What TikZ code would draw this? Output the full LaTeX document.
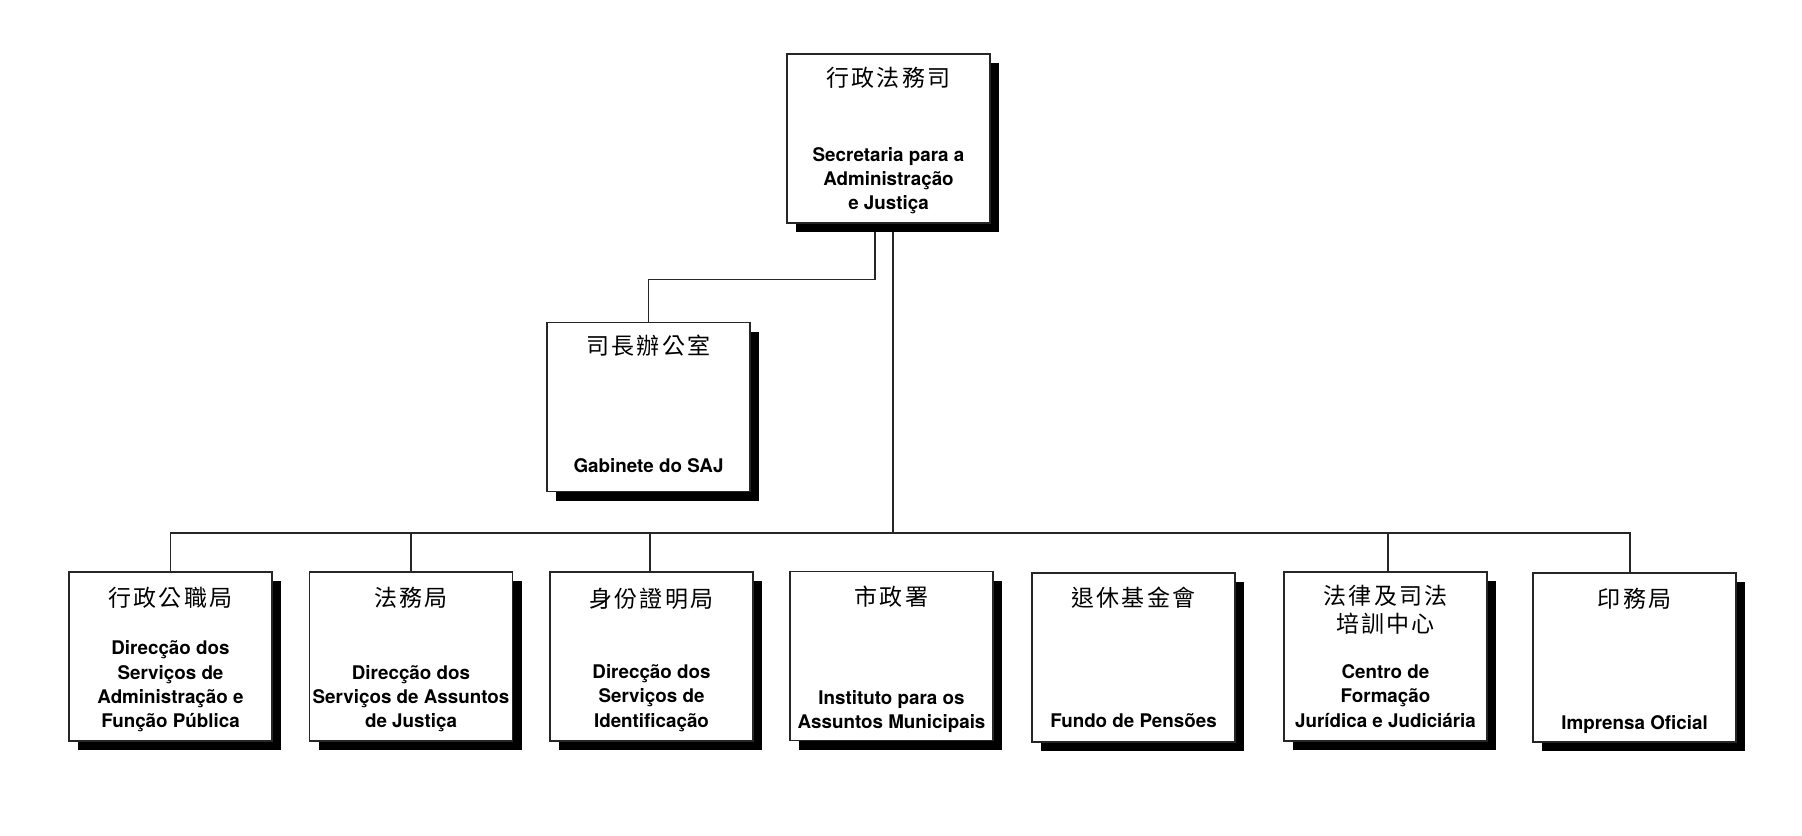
\documentclass[tikz,border=0pt]{standalone}
\usepackage{fontspec}
\setmainfont{TeX Gyre Heros}
\newfontfamily\cjkfont[LetterSpace=9]{Noto Sans CJK TC}
\usetikzlibrary{shadows,backgrounds,calc}
\tikzset{
  orgbox/.style={draw=black!85, line width=0.7pt, fill=white, minimum width=101.5pt, minimum height=84.5pt, inner sep=0pt,
    drop shadow={shadow xshift=4.5pt, shadow yshift=-4.5pt, fill=black, opacity=1}},
  cjktxt/.style={font=\fontsize{11.5}{14}\selectfont\cjkfont, align=center, inner sep=0pt},
  lattxt/.style={font=\fontsize{9.4}{12.15}\selectfont\bfseries, align=center, inner sep=0pt, anchor=south, execute at end node={\strut}},
  conn/.style={draw=black!85, line width=0.7pt}
}
\begin{document}
\begin{tikzpicture}[x=0.5pt, y=-0.5pt]
\useasboundingbox (0,0) rectangle (1802,835);
% boxes
\node[orgbox] (top) at (888.5,138.5) {};
\node[orgbox] (gab) at (648.5,407) {};
\node[orgbox] (b1) at (170.5,656.5) {};
\node[orgbox] (b2) at (411,656.5) {};
\node[orgbox] (b3) at (651.5,656.5) {};
\node[orgbox] (b4) at (891.5,656) {};
\node[orgbox] (b5) at (1133.5,657.5) {};
\node[orgbox] (b6) at (1385.5,656.5) {};
\node[orgbox] (b7) at (1634.5,657.5) {};
% texts
\node[cjktxt] (topc) at ([yshift=-12pt]top.north) {行政法務司};
\node[lattxt] (topl) at ([yshift=3.1pt]top.south) {Secretaria para a\\Administração\\e Justiça};
\node[cjktxt] (gabc) at ([yshift=-12pt]gab.north) {司長辦公室};
\node[lattxt] (gabl) at ([yshift=6.1pt]gab.south) {Gabinete do SAJ};
\node[cjktxt] (b1c) at ([yshift=-13pt]b1.north) {行政公職局};
\node[lattxt] (b1l) at ([yshift=3.1pt]b1.south) {Direcção dos\\Serviços de\\Administração e\\Função Pública};
\node[cjktxt] (b2c) at ([yshift=-13pt]b2.north) {法務局};
\node[lattxt] (b2l) at ([yshift=3.1pt]b2.south) {Direcção dos\\Serviços de Assuntos\\de Justiça};
\node[cjktxt] (b3c) at ([yshift=-13.5pt]b3.north) {身份證明局};
\node[lattxt] (b3l) at ([yshift=3.4pt]b3.south) {Direcção dos\\Serviços de\\Identificação};
\node[cjktxt] (b4c) at ([yshift=-13pt]b4.north) {市政署};
\node[lattxt] (b4l) at ([yshift=2.4pt]b4.south) {Instituto para os\\Assuntos Municipais};
\node[cjktxt] (b5c) at ([yshift=-12.5pt]b5.north) {退休基金會};
\node[lattxt] (b5l) at ([yshift=3.9pt]b5.south) {Fundo de Pensões};
\node[cjktxt] (b6c) at ([yshift=-19.5pt]b6.north) {法律及司法\\培訓中心};
\node[lattxt] (b6l) at ([yshift=3.4pt]b6.south) {Centro de\\Formação\\Jurídica e Judiciária};
\node[cjktxt] (b7c) at ([yshift=-13pt]b7.north) {印務局};
\node[lattxt] (b7l) at ([yshift=2.9pt]b7.south) {Imprensa Oficial};
% connectors
\coordinate (bus) at (893,533);
\begin{scope}[on background layer]
\draw[conn] ([xshift=-6.75pt]top.south) -- ++(0,56) -| (gab.north);
\draw[conn] ([xshift=2.25pt]top.south) -- ([xshift=2.25pt]top.south |- bus);
\draw[conn] (b1.north) |- ([xshift=-2.25pt]b7.north |- bus) -- ([xshift=-2.25pt]b7.north);
\draw[conn] (b2.north) -- (b2.north |- bus);
\draw[conn] ([xshift=-0.75pt]b3.north) -- ([xshift=-0.75pt]b3.north |- bus);
\draw[conn] ([xshift=1.25pt]b6.north) -- ([xshift=1.25pt]b6.north |- bus);
\end{scope}
\end{tikzpicture}
\end{document}
